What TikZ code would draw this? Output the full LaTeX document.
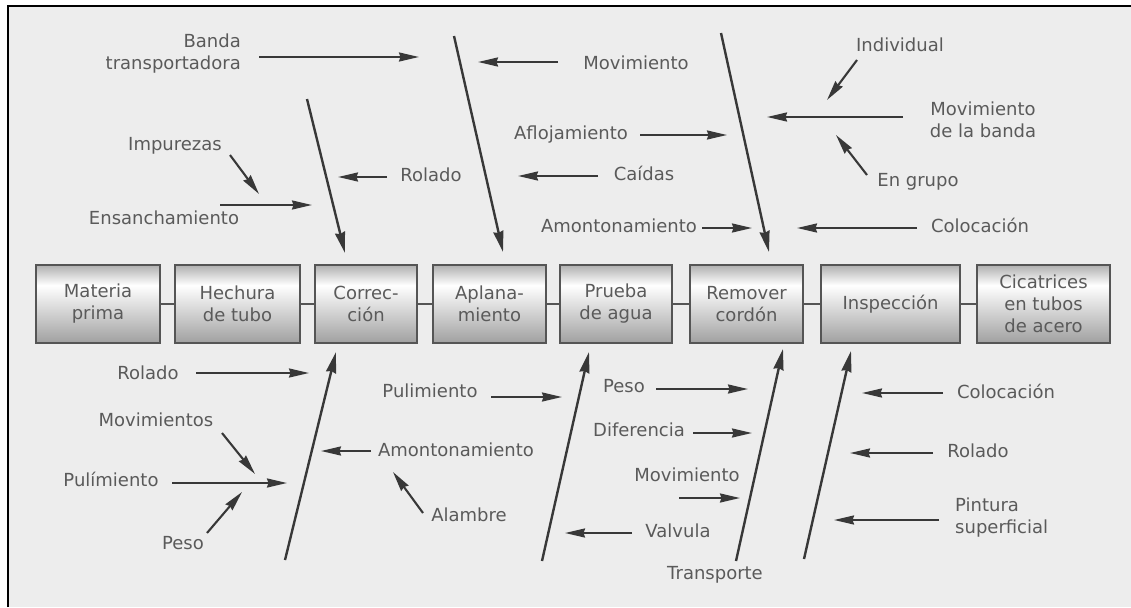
\documentclass[tikz,border=0pt]{standalone}
\usepackage{fontspec}
\setmainfont{DejaVu Sans}
\usetikzlibrary{arrows.meta}
\definecolor{bgfill}{HTML}{EDEDED}
\definecolor{txt}{HTML}{5A5A5A}
\definecolor{ink}{HTML}{383838}
\definecolor{boxedge}{HTML}{555555}
\definecolor{boxtop}{HTML}{B0B0B0}
\definecolor{boxbot}{HTML}{A0A0A0}
\pgfdeclareverticalshading{procshade}{100bp}{color(0bp)=(boxbot); color(25bp)=(boxbot); color(62bp)=(white); color(75bp)=(boxtop); color(100bp)=(boxtop)}
\begin{document}
\begin{tikzpicture}[x=1pt,y=-1pt,
  lbl/.style={text=txt, font=\fontsize{18}{22}\selectfont, inner sep=0pt, text height=13pt, text depth=4pt},
  lblm/.style={text=txt, font=\fontsize{18}{22}\selectfont, inner sep=0pt},
  arr/.style={draw=ink, line width=2.1pt, -{Stealth[length=20pt,width=9pt,inset=1.5pt]}},
  spine/.style={draw=ink, line width=2.4pt, -{Stealth[length=21pt,width=10pt,inset=1.5pt]}},
  proc/.style={draw=boxedge, line width=1.5pt, shading=procshade, minimum height=78pt,
    inner sep=0pt, align=center, text=txt, font=\fontsize{18}{22}\selectfont},
  link/.style={draw=boxedge, line width=1.5pt}]
\useasboundingbox (0,0) rectangle (1131,607);
% page, panel and frame
\fill[white] (0,0) rectangle (1131,607);
\fill[bgfill] (8,6) rectangle (1131,607);
\draw[black, line width=2.8pt] (8,607) -- (8,6) -- (1131,6);

% process chain
\node[proc, minimum width=124pt] (b1) at (98,304)   {Materia\\prima};
\node[proc, minimum width=125pt] (b2) at (237.5,304) {Hechura\\de tubo};
\node[proc, minimum width=102pt] (b3) at (366,304)  {Correc-\\ción};
\node[proc, minimum width=113pt] (b4) at (489.5,304) {Aplana-\\miento};
\node[proc, minimum width=112pt] (b5) at (616,304)  {Prueba\\de agua};
\node[proc, minimum width=113pt] (b6) at (746.5,304) {Remover\\cordón};
\node[proc, minimum width=139pt] (b7) at (890.5,304) {Inspección};
\node[proc, minimum width=133pt] (b8) at (1043.5,304) {Cicatrices\\en tubos\\de acero};
\foreach \a/\b in {b1/b2,b2/b3,b3/b4,b4/b5,b5/b6,b6/b7,b7/b8}
  \draw[link] (\a.east) -- (\b.west);

% main bones above the chain
\coordinate (t1s) at (307,99);  \coordinate (t1e) at (345,253);
\coordinate (t2s) at (454,36);  \coordinate (t2e) at (503,252);
\coordinate (t3s) at (721,33);  \coordinate (t3e) at (769,252);
\draw[spine] (t1s) -- (t1e);
\draw[spine] (t2s) -- (t2e);
\draw[spine] (t3s) -- (t3e);

% main bones below the chain
\coordinate (u1s) at (285,560); \coordinate (u1e) at (336,352);
\coordinate (u2s) at (542,561); \coordinate (u2e) at (589,352);
\coordinate (u3s) at (736,561); \coordinate (u3e) at (783,349);
\coordinate (u4s) at (804,559); \coordinate (u4e) at (851,351);
\draw[spine] (u1s) -- (u1e);
\draw[spine] (u2s) -- (u2e);
\draw[spine] (u3s) -- (u3e);
\draw[spine] (u4s) -- (u4e);

% upper causes
\node[lblm, align=right, anchor=east] (banda) at (241,54) {Banda\\transportadora};
\node[lbl] (impur) at (175,146) {Impurezas};
\node[lbl] (ensan) at (164,220) {Ensanchamiento};
\node[lbl] (rolT) at (431,177) {Rolado};
\node[lbl] (movT) at (636,65) {Movimiento};
\node[lbl] (aflo) at (571,135) {Aflojamiento};
\node[lbl] (caid) at (644,176) {Caídas};
\node[lbl] (amoT) at (619,228) {Amontonamiento};
\node[lbl] (indiv) at (900,47) {Individual};
\node[lblm, align=center] (movbanda) at (983,120) {Movimiento\\de la banda};
\node[lbl] (grupo) at (918,182) {En grupo};
\node[lbl] (colT) at (980,228) {Colocación};

\coordinate (a1s) at (259,57);  \coordinate (a1e) at (419,57);
\coordinate (a2s) at (230,155); \coordinate (a2e) at (259,194);
\coordinate (a3s) at (220,205); \coordinate (a3e) at (312,205);
\coordinate (a4s) at (387,177); \coordinate (a4e) at (338,177);
\coordinate (a5s) at (558,62);  \coordinate (a5e) at (478,62);
\coordinate (a6s) at (640,135); \coordinate (a6e) at (727,135);
\coordinate (a7s) at (598,176); \coordinate (a7e) at (518,176);
\coordinate (a8s) at (702,228); \coordinate (a8e) at (752,228);
\coordinate (a9s) at (857,60);  \coordinate (a9e) at (827,100);
\coordinate (a10s) at (903,117); \coordinate (a10e) at (767,117);
\coordinate (a11s) at (867,175); \coordinate (a11e) at (836,135);
\coordinate (a12s) at (917,228); \coordinate (a12e) at (797,228);
\foreach \i in {1,...,12} \draw[arr] (a\i s) -- (a\i e);

% lower causes
\node[lbl] (rolB) at (148,375) {Rolado};
\node[lbl] (movsB) at (156,422) {Movimientos};
\node[lbl] (pulB) at (111,482) {Pulímiento};
\node[lbl] (pesB) at (183,545) {Peso};
\node[lbl] (pul2B) at (430,393) {Pulimiento};
\node[lbl] (amoB) at (456,452) {Amontonamiento};
\node[lbl] (alaB) at (469,517) {Alambre};
\node[lbl] (pes2B) at (624,388) {Peso};
\node[lbl] (difB) at (639,432) {Diferencia};
\node[lbl] (movB) at (687,477) {Movimiento};
\node[lbl] (valB) at (678,533) {Valvula};
\node[lbl] (traB) at (715,575) {Transporte};
\node[lbl] (colB) at (1006,394) {Colocación};
\node[lbl] (rolB2) at (978,453) {Rolado};
\node[lblm, align=left, anchor=west] (pinB) at (955,518) {Pintura\\superficial};

\coordinate (c1s) at (196,373);  \coordinate (c1e) at (309,373);
\coordinate (c2s) at (222,433);  \coordinate (c2e) at (255,474);
\coordinate (c3s) at (172,483);  \coordinate (c3e) at (287,483);
\coordinate (c4s) at (207,533);  \coordinate (c4e) at (242,492);
\coordinate (c5s) at (491,397);  \coordinate (c5e) at (562,397);
\coordinate (c6s) at (371,451);  \coordinate (c6e) at (321,451);
\coordinate (c7s) at (423,513);  \coordinate (c7e) at (393,472);
\coordinate (c8s) at (656,389);  \coordinate (c8e) at (748,389);
\coordinate (c9s) at (693,433);  \coordinate (c9e) at (752,433);
\coordinate (c10s) at (679,498); \coordinate (c10e) at (740,498);
\coordinate (c11s) at (632,533); \coordinate (c11e) at (565,533);
\coordinate (c12s) at (943,393); \coordinate (c12e) at (862,393);
\coordinate (c13s) at (933,453); \coordinate (c13e) at (850,453);
\coordinate (c14s) at (939,520); \coordinate (c14e) at (834,520);
\foreach \i in {1,...,14} \draw[arr] (c\i s) -- (c\i e);
\end{tikzpicture}
\end{document}
